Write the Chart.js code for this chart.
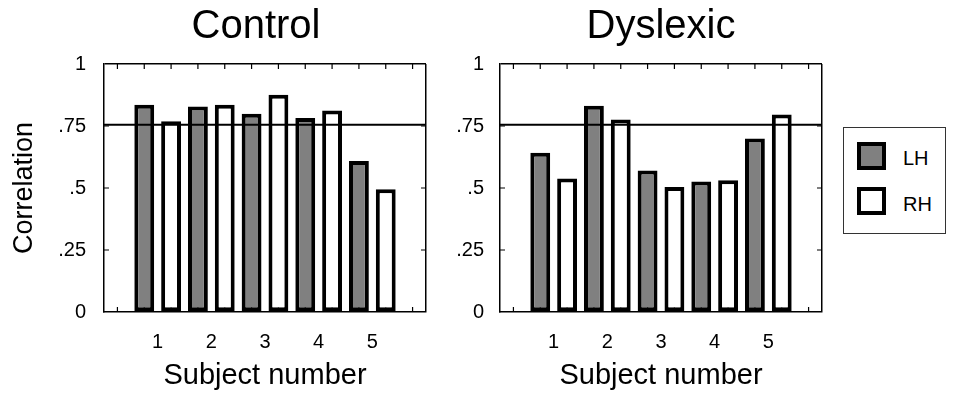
<!DOCTYPE html>
<html>
<head>
<meta charset="utf-8">
<script src="https://cdn.jsdelivr.net/npm/chart.js@4.4.1/dist/chart.umd.min.js"></script>
<style>
  html, body { margin: 0; padding: 0; background: #fff; }
  body { width: 960px; height: 393px; position: relative; overflow: hidden; font-family: "Liberation Sans", Arial, sans-serif; }
  #controlChart { position: absolute; left: 0; top: 0; }
  #dyslexicChart { position: absolute; left: 440px; top: 0; }
  #legend { position: absolute; left: 843px; top: 127px; width: 103px; height: 107px; border: 1px solid #333; box-sizing: border-box; }
  #legend .swatch { position: absolute; left: 13px; width: 29px; height: 28px; border: 4px solid #000; box-sizing: border-box; }
  #legend .lbl { position: absolute; left: 59px; font-size: 20px; line-height: 20px; color: #000; }
</style>
</head>
<body>
<canvas id="controlChart" width="512" height="393"></canvas>
<canvas id="dyslexicChart" width="400" height="393"></canvas>
<div id="legend">
  <div class="swatch" style="top:14px; background:#808080;"></div>
  <div class="lbl" style="top:20px;">LH</div>
  <div class="swatch" style="top:59px; background:#fff;"></div>
  <div class="lbl" style="top:66px;">RH</div>
</div>
<script>
// subjects 1..5, with empty slots at both ends so the axis runs 0..6
const subjectLabels = ['', '1', '2', '3', '4', '5', ''];

const controlLH = [0.836, 0.829, 0.799, 0.782, 0.609];
const controlRH = [0.769, 0.836, 0.876, 0.812, 0.495];

const dyslexicLH = [0.642, 0.832, 0.571, 0.526, 0.700];
const dyslexicRH = [0.538, 0.776, 0.504, 0.531, 0.796];

// horizontal reference line
const criterion = 0.755;

const yTickLabels = ['0', '.25', '.5', '.75', '1'];
// small inward tick marks (matlab style)
const minorTickX = [0.25, 0.75, 1.25, 1.75, 2.25, 2.75, 3.25, 3.75, 4.25, 4.75, 5.25, 5.75];
const minorTickY = [0.25, 0.5, 0.75];

const fontFamily = '"Liberation Sans", Arial, Helvetica, sans-serif';
const lhColor = '#808080';
const rhColor = '#ffffff';

const innerTicks = {
    id: 'innerTicks',
    beforeDatasetsDraw(chart) {
        const { ctx, chartArea: a } = chart;
        const x = chart.scales.x;
        const y = chart.scales.y;
        ctx.save();
        ctx.strokeStyle = '#000';
        ctx.lineWidth = 1.2;
        ctx.beginPath();
        minorTickX.forEach(v => {
            const px = x.getPixelForValue(v);
            ctx.moveTo(px, a.bottom); ctx.lineTo(px, a.bottom - 5);
            ctx.moveTo(px, a.top); ctx.lineTo(px, a.top + 5);
        });
        minorTickY.forEach(v => {
            const py = y.getPixelForValue(v);
            ctx.moveTo(a.left, py); ctx.lineTo(a.left + 5, py);
            ctx.moveTo(a.right, py); ctx.lineTo(a.right - 5, py);
        });
        ctx.stroke();
        ctx.restore();
    }
};

function makeChart(canvasId, title, lh, rh, opts) {
    const ctx = document.getElementById(canvasId).getContext('2d');
    const scales = {
        x: {
            type: 'category',
            offset: false,
            grid: {
                offset: false,
                drawTicks: false,
                lineWidth: 1.5,
                color: (c) => c.index === subjectLabels.length - 1 ? '#000' : 'rgba(0,0,0,0)'
            },
            border: { color: '#000', width: 1.5 },
            ticks: {
                color: '#000',
                font: { family: fontFamily, size: 20 },
                padding: 18,
                autoSkip: false,
                maxRotation: 0
            },
            title: {
                display: true,
                text: 'Subject number',
                color: '#000',
                font: { family: fontFamily, size: 29 },
                padding: { top: 0, bottom: 0 }
            },
            afterFit: (scale) => { scale.height = 81; }
        },
        y: {
            min: 0,
            max: 1,
            grid: {
                drawTicks: false,
                lineWidth: 1.5,
                color: (c) => c.tick && c.tick.value === 1 ? '#000' : 'rgba(0,0,0,0)'
            },
            border: { color: '#000', width: 1.5 },
            ticks: {
                stepSize: 0.25,
                color: '#000',
                font: { family: fontFamily, size: 20 },
                padding: opts.tickPad,
                callback: (v, i) => yTickLabels[i]
            },
            title: {
                display: opts.showYTitle,
                text: 'Correlation',
                color: '#000',
                font: { family: fontFamily, size: 27 },
                padding: { top: 8, bottom: 0 }
            },
            afterFit: (scale) => { scale.width = opts.yWidth; }
        }
    };
    if (opts.spacerRight) {
        // empty right-hand axis, only reserves room so the title centres where it should
        scales.ySpacer = {
            position: 'right',
            grid: { display: false },
            border: { display: false },
            ticks: { display: false },
            afterFit: (scale) => { scale.width = opts.spacerRight; }
        };
    }
    return new Chart(ctx, {
        type: 'bar',
        data: {
            labels: subjectLabels,
            datasets: [{
                label: 'LH',
                data: [null, ...lh, null],
                backgroundColor: lhColor,
                borderColor: '#000',
                borderWidth: 4,
                borderSkipped: false,
                categoryPercentage: 1,
                barPercentage: 0.74,
                order: 2
            }, {
                label: 'RH',
                data: [null, ...rh, null],
                backgroundColor: rhColor,
                borderColor: '#000',
                borderWidth: 4,
                borderSkipped: false,
                categoryPercentage: 1,
                barPercentage: 0.74,
                order: 2
            }, {
                type: 'line',
                label: 'criterion',
                data: subjectLabels.map(() => criterion),
                borderColor: '#000',
                borderWidth: 2,
                pointRadius: 0,
                fill: false,
                order: 1
            }]
        },
        options: {
            responsive: false,
            animation: false,
            layout: { padding: { left: 0, right: opts.padRight, top: 0, bottom: 0 } },
            scales: scales,
            plugins: {
                legend: { display: false },
                tooltip: { enabled: false },
                title: {
                    display: true,
                    text: title,
                    color: '#000',
                    fullSize: opts.titleFull,
                    font: { family: fontFamily, size: 40, weight: 'normal' },
                    padding: { top: 3, bottom: 13 }
                }
            }
        },
        plugins: [innerTicks]
    });
}

makeChart('controlChart', 'Control', controlLH, controlRH,
    { padRight: 0, spacerRight: 86, yWidth: 104, tickPad: 18, showYTitle: true, titleFull: true });
makeChart('dyslexicChart', 'Dyslexic', dyslexicLH, dyslexicRH,
    { padRight: 18, yWidth: 60, tickPad: 16, showYTitle: false, titleFull: false });
</script>
</body>
</html>
